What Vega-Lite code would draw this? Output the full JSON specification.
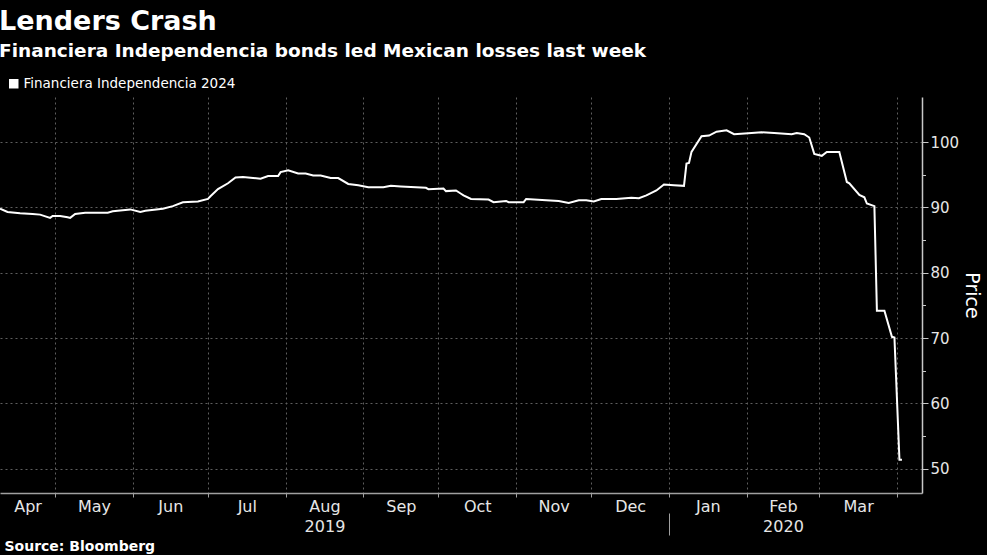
{
  "$schema": "https://vega.github.io/schema/vega-lite/v6.json",
  "width": 922,
  "height": 396,
  "autosize": {"type": "none"},
  "padding": {"left": 0, "top": 97, "right": 65, "bottom": 62},
  "background": "#000000",
  "title": {
    "text": "Lenders Crash",
    "subtitle": "Financiera Independencia bonds led Mexican losses last week",
    "anchor": "start",
    "dx": 3,
    "font": "DejaVu Sans",
    "fontSize": 27,
    "fontWeight": "bold",
    "color": "#ffffff",
    "subtitleFont": "DejaVu Sans",
    "subtitleFontSize": 18.5,
    "subtitleFontWeight": "bold",
    "subtitleColor": "#ffffff",
    "subtitlePadding": 6,
    "offset": 16
  },
  "data": {
    "values": [
      {"date": "2019-04-09", "price": 89.8, "series": "Financiera Independencia 2024"},
      {"date": "2019-04-12", "price": 89.3, "series": "Financiera Independencia 2024"},
      {"date": "2019-04-17", "price": 89.1, "series": "Financiera Independencia 2024"},
      {"date": "2019-04-22", "price": 89.0, "series": "Financiera Independencia 2024"},
      {"date": "2019-04-25", "price": 88.9, "series": "Financiera Independencia 2024"},
      {"date": "2019-04-29", "price": 88.4, "series": "Financiera Independencia 2024"},
      {"date": "2019-04-30", "price": 88.7, "series": "Financiera Independencia 2024"},
      {"date": "2019-05-03", "price": 88.7, "series": "Financiera Independencia 2024"},
      {"date": "2019-05-06", "price": 88.5, "series": "Financiera Independencia 2024"},
      {"date": "2019-05-07", "price": 88.4, "series": "Financiera Independencia 2024"},
      {"date": "2019-05-09", "price": 89.0, "series": "Financiera Independencia 2024"},
      {"date": "2019-05-13", "price": 89.2, "series": "Financiera Independencia 2024"},
      {"date": "2019-05-22", "price": 89.2, "series": "Financiera Independencia 2024"},
      {"date": "2019-05-24", "price": 89.4, "series": "Financiera Independencia 2024"},
      {"date": "2019-05-31", "price": 89.7, "series": "Financiera Independencia 2024"},
      {"date": "2019-06-04", "price": 89.3, "series": "Financiera Independencia 2024"},
      {"date": "2019-06-06", "price": 89.5, "series": "Financiera Independencia 2024"},
      {"date": "2019-06-13", "price": 89.8, "series": "Financiera Independencia 2024"},
      {"date": "2019-06-17", "price": 90.2, "series": "Financiera Independencia 2024"},
      {"date": "2019-06-21", "price": 90.8, "series": "Financiera Independencia 2024"},
      {"date": "2019-06-27", "price": 90.9, "series": "Financiera Independencia 2024"},
      {"date": "2019-07-01", "price": 91.3, "series": "Financiera Independencia 2024"},
      {"date": "2019-07-02", "price": 91.7, "series": "Financiera Independencia 2024"},
      {"date": "2019-07-05", "price": 92.8, "series": "Financiera Independencia 2024"},
      {"date": "2019-07-09", "price": 93.7, "series": "Financiera Independencia 2024"},
      {"date": "2019-07-12", "price": 94.6, "series": "Financiera Independencia 2024"},
      {"date": "2019-07-15", "price": 94.65, "series": "Financiera Independencia 2024"},
      {"date": "2019-07-19", "price": 94.5, "series": "Financiera Independencia 2024"},
      {"date": "2019-07-22", "price": 94.4, "series": "Financiera Independencia 2024"},
      {"date": "2019-07-25", "price": 94.8, "series": "Financiera Independencia 2024"},
      {"date": "2019-07-29", "price": 94.8, "series": "Financiera Independencia 2024"},
      {"date": "2019-07-30", "price": 95.4, "series": "Financiera Independencia 2024"},
      {"date": "2019-08-02", "price": 95.7, "series": "Financiera Independencia 2024"},
      {"date": "2019-08-06", "price": 95.2, "series": "Financiera Independencia 2024"},
      {"date": "2019-08-09", "price": 95.2, "series": "Financiera Independencia 2024"},
      {"date": "2019-08-12", "price": 94.9, "series": "Financiera Independencia 2024"},
      {"date": "2019-08-15", "price": 94.9, "series": "Financiera Independencia 2024"},
      {"date": "2019-08-19", "price": 94.5, "series": "Financiera Independencia 2024"},
      {"date": "2019-08-22", "price": 94.5, "series": "Financiera Independencia 2024"},
      {"date": "2019-08-26", "price": 93.6, "series": "Financiera Independencia 2024"},
      {"date": "2019-08-30", "price": 93.4, "series": "Financiera Independencia 2024"},
      {"date": "2019-09-03", "price": 93.1, "series": "Financiera Independencia 2024"},
      {"date": "2019-09-09", "price": 93.1, "series": "Financiera Independencia 2024"},
      {"date": "2019-09-12", "price": 93.3, "series": "Financiera Independencia 2024"},
      {"date": "2019-09-16", "price": 93.2, "series": "Financiera Independencia 2024"},
      {"date": "2019-09-26", "price": 93.0, "series": "Financiera Independencia 2024"},
      {"date": "2019-09-27", "price": 92.8, "series": "Financiera Independencia 2024"},
      {"date": "2019-10-03", "price": 92.9, "series": "Financiera Independencia 2024"},
      {"date": "2019-10-04", "price": 92.5, "series": "Financiera Independencia 2024"},
      {"date": "2019-10-08", "price": 92.6, "series": "Financiera Independencia 2024"},
      {"date": "2019-10-10", "price": 92.1, "series": "Financiera Independencia 2024"},
      {"date": "2019-10-11", "price": 91.85, "series": "Financiera Independencia 2024"},
      {"date": "2019-10-14", "price": 91.3, "series": "Financiera Independencia 2024"},
      {"date": "2019-10-21", "price": 91.2, "series": "Financiera Independencia 2024"},
      {"date": "2019-10-23", "price": 90.8, "series": "Financiera Independencia 2024"},
      {"date": "2019-10-28", "price": 91.0, "series": "Financiera Independencia 2024"},
      {"date": "2019-10-29", "price": 90.8, "series": "Financiera Independencia 2024"},
      {"date": "2019-11-04", "price": 90.8, "series": "Financiera Independencia 2024"},
      {"date": "2019-11-05", "price": 91.3, "series": "Financiera Independencia 2024"},
      {"date": "2019-11-13", "price": 91.1, "series": "Financiera Independencia 2024"},
      {"date": "2019-11-18", "price": 91.0, "series": "Financiera Independencia 2024"},
      {"date": "2019-11-22", "price": 90.7, "series": "Financiera Independencia 2024"},
      {"date": "2019-11-26", "price": 91.1, "series": "Financiera Independencia 2024"},
      {"date": "2019-11-29", "price": 91.1, "series": "Financiera Independencia 2024"},
      {"date": "2019-12-02", "price": 90.9, "series": "Financiera Independencia 2024"},
      {"date": "2019-12-05", "price": 91.3, "series": "Financiera Independencia 2024"},
      {"date": "2019-12-11", "price": 91.3, "series": "Financiera Independencia 2024"},
      {"date": "2019-12-17", "price": 91.5, "series": "Financiera Independencia 2024"},
      {"date": "2019-12-20", "price": 91.4, "series": "Financiera Independencia 2024"},
      {"date": "2019-12-23", "price": 91.85, "series": "Financiera Independencia 2024"},
      {"date": "2019-12-27", "price": 92.6, "series": "Financiera Independencia 2024"},
      {"date": "2019-12-30", "price": 93.5, "series": "Financiera Independencia 2024"},
      {"date": "2020-01-03", "price": 93.4, "series": "Financiera Independencia 2024"},
      {"date": "2020-01-07", "price": 93.3, "series": "Financiera Independencia 2024"},
      {"date": "2020-01-08", "price": 96.7, "series": "Financiera Independencia 2024"},
      {"date": "2020-01-09", "price": 96.8, "series": "Financiera Independencia 2024"},
      {"date": "2020-01-10", "price": 98.5, "series": "Financiera Independencia 2024"},
      {"date": "2020-01-14", "price": 100.9, "series": "Financiera Independencia 2024"},
      {"date": "2020-01-17", "price": 101.0, "series": "Financiera Independencia 2024"},
      {"date": "2020-01-20", "price": 101.6, "series": "Financiera Independencia 2024"},
      {"date": "2020-01-24", "price": 101.8, "series": "Financiera Independencia 2024"},
      {"date": "2020-01-27", "price": 101.2, "series": "Financiera Independencia 2024"},
      {"date": "2020-02-03", "price": 101.4, "series": "Financiera Independencia 2024"},
      {"date": "2020-02-07", "price": 101.5, "series": "Financiera Independencia 2024"},
      {"date": "2020-02-12", "price": 101.4, "series": "Financiera Independencia 2024"},
      {"date": "2020-02-19", "price": 101.2, "series": "Financiera Independencia 2024"},
      {"date": "2020-02-21", "price": 101.4, "series": "Financiera Independencia 2024"},
      {"date": "2020-02-24", "price": 101.2, "series": "Financiera Independencia 2024"},
      {"date": "2020-02-26", "price": 100.7, "series": "Financiera Independencia 2024"},
      {"date": "2020-02-28", "price": 98.2, "series": "Financiera Independencia 2024"},
      {"date": "2020-03-02", "price": 97.9, "series": "Financiera Independencia 2024"},
      {"date": "2020-03-04", "price": 98.5, "series": "Financiera Independencia 2024"},
      {"date": "2020-03-09", "price": 98.5, "series": "Financiera Independencia 2024"},
      {"date": "2020-03-12", "price": 93.9, "series": "Financiera Independencia 2024"},
      {"date": "2020-03-13", "price": 93.7, "series": "Financiera Independencia 2024"},
      {"date": "2020-03-17", "price": 91.9, "series": "Financiera Independencia 2024"},
      {"date": "2020-03-19", "price": 91.55, "series": "Financiera Independencia 2024"},
      {"date": "2020-03-20", "price": 90.6, "series": "Financiera Independencia 2024"},
      {"date": "2020-03-23", "price": 90.2, "series": "Financiera Independencia 2024"},
      {"date": "2020-03-24", "price": 74.2, "series": "Financiera Independencia 2024"},
      {"date": "2020-03-27", "price": 74.2, "series": "Financiera Independencia 2024"},
      {"date": "2020-03-30", "price": 70.2, "series": "Financiera Independencia 2024"},
      {"date": "2020-03-31", "price": 70.1, "series": "Financiera Independencia 2024"},
      {"date": "2020-04-02", "price": 51.4, "series": "Financiera Independencia 2024"},
      {"date": "2020-04-03", "price": 51.4, "series": "Financiera Independencia 2024"}
    ]
  },
  "mark": {"type": "line", "strokeWidth": 2, "interpolate": "linear"},
  "encoding": {
    "x": {
      "field": "date",
      "type": "temporal",
      "scale": {
        "type": "utc",
        "domain": [
          {"year": 2019, "month": 4, "date": 9, "utc": true},
          {"year": 2020, "month": 4, "date": 11, "utc": true}
        ]
      },
      "axis": {
        "orient": "bottom",
        "values": [
          {"year": 2019, "month": 4, "date": 20, "utc": true},
          {"year": 2019, "month": 5, "date": 1, "utc": true},
          {"year": 2019, "month": 5, "date": 16, "hours": 12, "utc": true},
          {"year": 2019, "month": 6, "date": 1, "utc": true},
          {"year": 2019, "month": 6, "date": 16, "utc": true},
          {"year": 2019, "month": 7, "date": 1, "utc": true},
          {"year": 2019, "month": 7, "date": 16, "hours": 12, "utc": true},
          {"year": 2019, "month": 8, "date": 1, "utc": true},
          {"year": 2019, "month": 8, "date": 16, "hours": 12, "utc": true},
          {"year": 2019, "month": 9, "date": 1, "utc": true},
          {"year": 2019, "month": 9, "date": 16, "utc": true},
          {"year": 2019, "month": 10, "date": 1, "utc": true},
          {"year": 2019, "month": 10, "date": 16, "hours": 12, "utc": true},
          {"year": 2019, "month": 11, "date": 1, "utc": true},
          {"year": 2019, "month": 11, "date": 16, "utc": true},
          {"year": 2019, "month": 12, "date": 1, "utc": true},
          {"year": 2019, "month": 12, "date": 16, "hours": 12, "utc": true},
          {"year": 2020, "month": 1, "date": 1, "utc": true},
          {"year": 2020, "month": 1, "date": 16, "hours": 12, "utc": true},
          {"year": 2020, "month": 2, "date": 1, "utc": true},
          {"year": 2020, "month": 2, "date": 15, "hours": 12, "utc": true},
          {"year": 2020, "month": 3, "date": 1, "utc": true},
          {"year": 2020, "month": 3, "date": 16, "hours": 12, "utc": true},
          {"year": 2020, "month": 4, "date": 1, "utc": true}
        ],
        "labelExpr": "utcdate(datum.value) == 1 ? '' : (utcyear(datum.value) == 2019 && utcmonth(datum.value) == 7 ? ['Aug', '2019'] : (utcyear(datum.value) == 2020 && utcmonth(datum.value) == 1 ? ['Feb', '2020'] : utcFormat(datum.value, '%b')))",
        "labelFont": "DejaVu Sans",
        "labelFontSize": 16,
        "labelColor": "#e6e6e6",
        "labelPadding": 1,
        "labelLineHeight": 20,
        "labelBaseline": "top",
        "labelAlign": "center",
        "labelOverlap": false,
        "labelFlush": false,
        "labelBound": false,
        "domainColor": "#a0a0a0",
        "domainWidth": 1.5,
        "tickColor": "#a0a0a0",
        "tickWidth": 1,
        "tickSize": {"condition": {"test": "utcyear(datum.value) == 2020 && utcmonth(datum.value) == 0 && utcdate(datum.value) == 1", "value": 42}, "value": 4},
        "tickDash": {"condition": {"test": "utcyear(datum.value) == 2020 && utcmonth(datum.value) == 0 && utcdate(datum.value) == 1", "value": [4, 16, 22, 0]}, "value": []},
        "tickOpacity": {"condition": {"test": "utcdate(datum.value) != 1", "value": 0}, "value": 1},
        "grid": true,
        "gridColor": "#5e5e5e",
        "gridDash": [2, 3],
        "gridWidth": 1,
        "gridOpacity": {"condition": {"test": "utcdate(datum.value) != 1", "value": 0}, "value": 1},
        "title": "Source: Bloomberg",
        "titleAnchor": "start",
        "titleAlign": "left",
        "titleBaseline": "alphabetic",
        "titleFont": "DejaVu Sans",
        "titleFontSize": 14,
        "titleFontWeight": "bold",
        "titleColor": "#ffffff",
        "titleX": 4,
        "titleY": 57
      }
    },
    "y": {
      "field": "price",
      "type": "quantitative",
      "scale": {"domain": [46.3, 106.9], "nice": false, "zero": false},
      "axis": {
        "orient": "right",
        "values": [50, 55, 60, 65, 70, 75, 80, 85, 90, 95, 100],
        "labelExpr": "datum.value % 10 == 0 ? datum.label : ''",
        "labelFont": "DejaVu Sans",
        "labelFontSize": 15,
        "labelColor": "#e6e6e6",
        "labelPadding": 2,
        "domainColor": "#c8c8c8",
        "domainWidth": 1.5,
        "tickColor": "#c8c8c8",
        "tickSize": {"condition": {"test": "datum.value % 10 != 0", "value": 3.5}, "value": 6},
        "grid": true,
        "gridColor": "#5e5e5e",
        "gridDash": [2, 3],
        "gridWidth": 1,
        "gridOpacity": {"condition": {"test": "datum.value % 10 != 0", "value": 0}, "value": 1},
        "title": "Price",
        "titleFont": "DejaVu Sans",
        "titleFontSize": 19,
        "titleFontWeight": "normal",
        "titleColor": "#ffffff",
        "titlePadding": 3
      }
    },
    "color": {
      "field": "series",
      "type": "nominal",
      "scale": {"range": ["#ffffff"]},
      "legend": {
        "orient": "none",
        "legendX": 7,
        "legendY": -20,
        "title": null,
        "padding": 0,
        "symbolType": "square",
        "symbolSize": 90,
        "symbolFillColor": "#ffffff",
        "symbolStrokeColor": "#ffffff",
        "symbolStrokeWidth": 0,
        "labelFont": "DejaVu Sans",
        "labelFontSize": 13.5,
        "labelColor": "#ffffff",
        "labelOffset": 3,
        "labelLimit": 0,
        "encode": {"symbols": {"update": {"fill": {"value": "#ffffff"}, "strokeWidth": {"value": 0}}}}
      }
    }
  },
  "config": {
    "view": {"stroke": null},
    "font": "DejaVu Sans"
  }
}
